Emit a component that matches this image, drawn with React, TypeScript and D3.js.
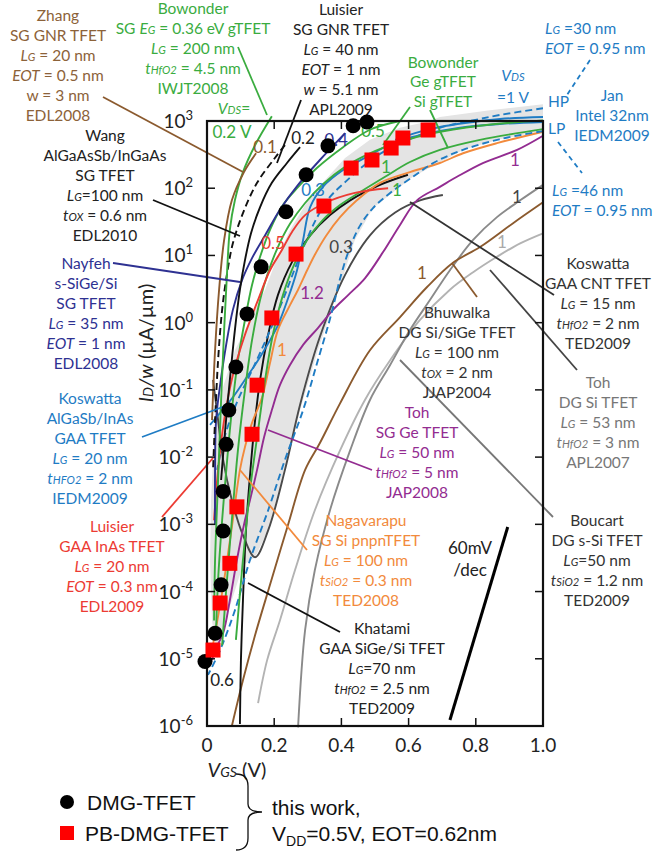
import React from "react";
import * as d3 from "d3";

// ---------- axes ----------
const VGS_TICKS = [0, 0.2, 0.4, 0.6, 0.8, 1.0];
const VGS_TICK_LABELS = ["0", "0.2", "0.4", "0.6", "0.8", "1.0"];
const ID_EXPONENTS = [3, 2, 1, 0, -1, -2, -3, -4, -5, -6];

// ---------- this work: [VGS (V), log10 ID/w (uA/um)] ----------
const dmgTfet: [number, number][] = [
  [0.476, 2.985], [0.435, 2.93], [0.36, 2.63], [0.295, 2.2], [0.235, 1.65],
  [0.161, 0.83], [0.119, 0.13], [0.086, -0.66], [0.065, -1.3], [0.057, -1.81],
  [0.048, -2.51], [0.048, -3.1], [0.042, -3.9], [0.024, -4.62], [-0.006, -5.04],
];
const pbDmgTfet: [number, number][] = [
  [0.658, 2.866], [0.583, 2.747], [0.548, 2.598], [0.491, 2.42], [0.429, 2.3],
  [0.348, 1.735], [0.265, 1.02], [0.193, 0.07], [0.149, -0.93], [0.134, -1.66],
  [0.089, -2.74], [0.068, -3.58], [0.039, -4.17], [0.018, -4.87],
];

// ---------- literature curves: [VGS, log10 ID/w] ----------
const zhangGnr = [[0.146, 2.52], [0.11, 2.24], [0.074, 1.82], [0.051, 1.23], [0.036, 0.49], [0.024, -0.41], [0.015, -1.45]];
const bowonder02 = [[0.193, 3.07], [0.143, 2.64], [0.107, 2.24], [0.083, 1.82], [0.068, 1.38], [0.06, 0.78], [0.051, -0.11], [0.042, -1.15], [0.033, -2.34], [0.024, -3.53], [0.021, -4.43]];
const wangIII = [[0.232, 2.64], [0.202, 2.45], [0.149, 2.08], [0.107, 1.63], [0.077, 1.18], [0.06, 0.74], [0.045, 0.19], [0.033, -0.56], [0.024, -1.45], [0.018, -2.19]];
const luisierGnr = [[0.277, 2.61], [0.238, 2.375], [0.193, 2.08], [0.158, 1.72], [0.131, 1.33], [0.113, 0.93], [0.098, 0.49], [0.083, -0.11], [0.068, -0.85], [0.054, -1.6], [0.042, -2.34]];
const nayfeh = [[0.411, 2.82], [0.336, 2.42], [0.271, 2.05], [0.217, 1.68], [0.173, 1.3], [0.134, 0.96], [0.104, 0.63], [0.077, 0.19], [0.057, -0.33], [0.039, -0.93], [0.027, -1.45], [0.024, -2.19], [0.024, -3.01]];
const bowonder05 = [[0.574, 3.0], [0.485, 2.87], [0.405, 2.61], [0.327, 2.3], [0.268, 2.0], [0.226, 1.75], [0.1875, 1.38], [0.158, 0.98], [0.134, 0.56], [0.113, 0.04], [0.092, -0.56], [0.074, -1.3], [0.06, -2.04], [0.045, -2.94], [0.033, -3.83], [0.027, -4.57]];
const bowonderGe = [[1.0, 3.01], [0.8125, 2.93], [0.664, 2.81], [0.574, 2.69], [0.485, 2.52], [0.411, 2.32], [0.345, 2.06], [0.292, 1.78], [0.247, 1.47], [0.211, 1.125], [0.182, 0.75], [0.158, 0.34], [0.134, -0.26], [0.113, -1.0], [0.092, -1.9], [0.074, -2.94], [0.057, -3.98], [0.045, -4.8]];
const bowonderSi = [[1.0, 2.88], [0.8125, 2.72], [0.693, 2.57], [0.604, 2.39], [0.53, 2.17], [0.455, 1.94], [0.396, 1.75], [0.345, 1.53], [0.298, 1.23], [0.259, 0.86], [0.226, 0.41], [0.196, -0.18], [0.173, -0.85], [0.152, -1.6], [0.128, -2.49], [0.107, -3.53], [0.086, -4.72]];
const luisierInAs = [[0.539, 2.0], [0.44, 1.93], [0.351, 1.78], [0.292, 1.6], [0.253, 1.35], [0.223, 1.08], [0.1875, 0.78], [0.152, 0.34], [0.113, -0.18], [0.077, -0.78], [0.051, -1.45], [0.033, -2.19], [0.021, -2.94]];
const koswattaIII = [[1.0, 2.985], [0.872, 2.955], [0.753, 2.9], [0.634, 2.79], [0.56, 2.69], [0.485, 2.49], [0.405, 2.27], [0.345, 2.02], [0.307, 1.72], [0.286, 1.23], [0.268, 0.78], [0.241, 0.36], [0.208, -0.07], [0.158, -0.51], [0.113, -0.85], [0.077, -1.11], [0.009, -1.52]];
const koswattaIIIb = [[1.0, 3.06], [0.872, 3.03], [0.768, 2.97], [0.693, 2.91], [0.619, 2.82], [0.56, 2.72]];
const janHP = [[1.0, 3.19], [0.872, 3.09], [0.783, 3.0], [0.693, 2.9], [0.604, 2.73], [0.53, 2.555], [0.47, 2.35], [0.411, 2.09], [0.366, 1.87], [0.327, 1.56], [0.292, 1.18], [0.262, 0.81], [0.226, 0.34], [0.182, -0.18], [0.134, -0.71], [0.092, -1.15], [0.054, -1.67], [0.03, -2.19]];
const janLP = [[1.0, 2.85], [0.872, 2.73], [0.762, 2.57], [0.679, 2.39], [0.613, 2.17], [0.545, 1.93], [0.494, 1.705], [0.455, 1.44], [0.426, 1.125], [0.399, 0.71], [0.369, 0.11], [0.33, -0.56], [0.286, -1.3], [0.232, -2.04], [0.182, -2.79], [0.128, -3.53], [0.083, -4.28], [0.039, -4.87], [0.003, -5.24]];
const koswattaCnt = [[0.018, -0.85], [0.033, -1.45], [0.048, -2.04], [0.074, -2.64], [0.107, -3.16], [0.143, -3.49], [0.182, -3.09], [0.232, -2.19], [0.277, -1.22], [0.336, -0.21], [0.411, 0.71], [0.485, 1.3], [0.56, 1.64], [0.634, 1.82], [0.702, 1.9]];
const khatami = [[0.598, 2.2], [0.515, 2.05], [0.426, 1.82], [0.366, 1.6], [0.307, 1.3], [0.253, 0.9], [0.211, 0.41], [0.182, -0.18], [0.158, -0.85], [0.14, -1.6], [0.128, -2.27], [0.116, -3.09], [0.107, -4.13], [0.101, -5.02], [0.098, -5.97]];
const tohGe = [[1.0, 2.78], [0.923, 2.57], [0.821, 2.375], [0.744, 2.17], [0.693, 2.02], [0.625, 1.82], [0.574, 1.45], [0.524, 1.05], [0.47, 0.66], [0.42, 0.41], [0.375, 0.19], [0.33, -0.08], [0.286, -0.33], [0.247, -0.63], [0.217, -0.93], [0.193, -1.3], [0.17, -1.7], [0.149, -2.19], [0.128, -2.64], [0.113, -2.94], [0.089, -3.53], [0.068, -4.13], [0.048, -4.62], [0.024, -4.87], [0.015, -5.02]];
const nagavarapu = [[1.0, 2.84], [0.863, 2.67], [0.762, 2.52], [0.693, 2.375], [0.604, 2.24], [0.515, 2.08], [0.446, 1.82], [0.396, 1.57], [0.354, 1.29], [0.321, 1.01], [0.298, 0.78], [0.271, 0.49], [0.247, 0.26], [0.211, -0.11], [0.1875, -0.6], [0.164, -1.11], [0.134, -1.49], [0.113, -1.85], [0.098, -2.19], [0.074, -3.04], [0.045, -4.02], [0.024, -4.62], [0.015, -4.87]];
const bhuwalka = [[1.0, 1.79], [0.911, 1.48], [0.8125, 1.125], [0.732, 0.89], [0.655, 0.53], [0.574, 0.08], [0.485, -0.41], [0.396, -1.2], [0.336, -1.79], [0.292, -2.19], [0.241, -3.01], [0.1875, -3.9], [0.143, -4.65], [0.107, -5.32], [0.074, -6.0]];
const boucart = [[1.0, 2.05], [0.932, 1.82], [0.863, 1.57], [0.792, 1.23], [0.723, 0.78], [0.664, 0.34], [0.604, -0.11], [0.545, -0.63], [0.485, -1.15], [0.426, -1.9], [0.366, -2.79], [0.321, -3.68], [0.292, -4.57], [0.271, -6.02]];
const tohSi = [[1.0, 1.33], [0.932, 1.18], [0.863, 0.98], [0.792, 0.75], [0.723, 0.49], [0.634, 0.04], [0.545, -0.56], [0.47, -1.15], [0.396, -1.9], [0.321, -2.79], [0.262, -3.68], [0.217, -4.43], [0.179, -5.02], [0.152, -5.66]];
const slope60 = [[0.723, -5.91], [0.895, -3.04]];

// benchmark envelope (shaded)
const envelope = [
  [1.0, 3.25], [0.842, 3.16], [0.693, 3.06], [0.664, 3.0], [0.574, 2.9], [0.485, 2.72], [0.411, 2.45], [0.351, 2.12], [0.292, 1.75], [0.247, 1.38], [0.208, 0.96], [0.173, 0.49], [0.128, 0.04], [0.083, -0.41], [0.045, -1.0], [0.021, -1.75], [0.012, -2.64], [0.009, -3.53], [0.015, -4.43], [0.027, -4.87],
  [0.074, -4.13], [0.107, -3.61], [0.143, -3.49], [0.182, -3.09], [0.232, -2.19], [0.277, -1.3], [0.33, -0.41], [0.381, 0.34], [0.411, 0.78], [0.44, 1.23], [0.494, 1.705], [0.613, 2.17], [0.762, 2.57], [0.872, 2.73], [1.0, 2.85],
];

const C = {
  brown: "#8b5a2e", green: "#3aac3f", navy: "#2e3192", blue: "#1f7cc4", red: "#ec3b33",
  orange: "#f28a3c", purple: "#932c91", dgray: "#4a4a4a", mgray: "#8a8a8a", lgray: "#b3b3b3", black: "#111",
};

const SERIES: { d: number[][]; color: string; dash?: string; w?: number }[] = [
  { d: tohSi, color: C.lgray }, { d: boucart, color: C.mgray }, { d: bhuwalka, color: C.brown },
  { d: koswattaCnt, color: C.dgray }, { d: khatami, color: C.black },
  { d: tohGe, color: C.purple }, { d: nagavarapu, color: C.orange },
  { d: janLP, color: C.blue, dash: "7,4" }, { d: janHP, color: C.blue, dash: "7,4" },
  { d: koswattaIII, color: C.blue }, { d: koswattaIIIb, color: C.blue },
  { d: bowonderSi, color: C.green }, { d: bowonderGe, color: C.green }, { d: bowonder05, color: C.green },
  { d: luisierInAs, color: C.red }, { d: nayfeh, color: C.navy },
  { d: luisierGnr, color: C.black }, { d: wangIII, color: C.black, dash: "7,4" },
  { d: bowonder02, color: C.green }, { d: zhangGnr, color: C.brown },
];

const FONT = "Lato, 'Open Sans', sans-serif";

type Lbl = { lines: string[]; x: number; y: number; dy?: number; color: string; anchor?: string; size?: number };
const LABELS: Lbl[] = [
  { lines: ["Zhang", "SG GNR TFET", "*L*{G} = 20 nm", "*EOT* = 0.5 nm", "w = 3 nm", "EDL2008"], x: 58, y: 15, color: "#8c6239" },
  { lines: ["Bowonder", "SG *E*{G} = 0.36 eV gTFET", "*L*{G} = 200 nm", "*t*{HfO2} = 4.5 nm", "IWJT2008"], x: 193, y: 8, color: C.green },
  { lines: ["*V*{DS}="], x: 234, y: 108, color: C.green },
  { lines: ["Luisier", "SG GNR TFET", "*L*{G} = 40 nm", "*EOT* = 1 nm", "*w* = 5.1 nm", "APL2009"], x: 341, y: 9, color: "#222" },
  { lines: ["Wang", "AlGaAsSb/InGaAs", "SG TFET", "*L*{G}=100 nm", "*t*{OX} = 0.6 nm", "EDL2010"], x: 105, y: 135, color: "#222" },
  { lines: ["Nayfeh", "s-SiGe/Si", "SG TFET", "*L*{G} = 35 nm", "*EOT* = 1 nm", "EDL2008"], x: 86, y: 263, color: C.navy },
  { lines: ["Koswatta", "AlGaSb/InAs", "GAA TFET", "*L*{G} = 20 nm", "*t*{HFO2} = 2 nm", "IEDM2009"], x: 90, y: 398, color: C.blue },
  { lines: ["Luisier", "GAA InAs TFET", "*L*{G} = 20 nm", "*EOT* = 0.3 nm", "EDL2009"], x: 112, y: 526, color: C.red },
  { lines: ["Bowonder", "Ge gTFET", "Si gTFET"], x: 443, y: 62, dy: 19.5, color: C.green },
  { lines: ["*V*{DS}", "=1 V"], x: 513, y: 75, dy: 22, color: C.blue },
  { lines: ["HP"], x: 548, y: 101, color: C.blue, anchor: "start" },
  { lines: ["LP"], x: 548, y: 128, color: C.blue, anchor: "start" },
  { lines: ["Jan", "Intel 32nm", "IEDM2009"], x: 612, y: 95, color: C.blue },
  { lines: ["*L*{G} =30 nm", "*EOT* = 0.95 nm"], x: 545, y: 28, color: C.blue, anchor: "start" },
  { lines: ["*L*{G} =46 nm", "*EOT* = 0.95 nm"], x: 552, y: 190, color: C.blue, anchor: "start" },
  { lines: ["Koswatta", "GAA CNT TFET", "*L*{G} = 15 nm", "*t*{HfO2} = 2 nm", "TED2009"], x: 598, y: 263, color: "#333" },
  { lines: ["Toh", "DG Si TFET", "*L*{G} = 53 nm", "*t*{HfO2} = 3 nm", "APL2007"], x: 598, y: 382, color: "#777" },
  { lines: ["Boucart", "DG s-Si TFET", "*L*{G}=50 nm", "*t*{SiO2} = 1.2 nm", "TED2009"], x: 597, y: 520, color: "#333" },
  { lines: ["Bhuwalka", "DG Si/SiGe TFET", "*L*{G} = 100 nm", "*t*{OX} = 2 nm", "JJAP2004"], x: 457, y: 312, color: "#333" },
  { lines: ["Toh", "SG Ge TFET", "*L*{G} = 50 nm", "*t*{HfO2} = 5 nm", "JAP2008"], x: 417, y: 412, color: C.purple },
  { lines: ["Nagavarapu", "SG Si pnpnTFET", "*L*{G} = 100 nm", "*t*{SiO2} = 0.3 nm", "TED2008"], x: 366, y: 520, color: C.orange },
  { lines: ["Khatami", "GAA SiGe/Si TFET", "*L*{G}=70 nm", "*t*{HfO2} = 2.5 nm", "TED2009"], x: 382, y: 628, color: "#222" },
  { lines: ["60mV", "/dec"], x: 470, y: 548, dy: 22, color: "#222", size: 17 },
  // curve tags (VDS values)
  { lines: ["0.2 V"], x: 232, y: 132, color: C.green, size: 17 },
  { lines: ["0.1"], x: 265, y: 147, color: C.brown, size: 17 },
  { lines: ["0.2"], x: 303, y: 138, color: "#222", size: 17 },
  { lines: ["0.4"], x: 336, y: 140, color: C.navy, size: 17 },
  { lines: ["0.5"], x: 373, y: 131, color: C.green, size: 17 },
  { lines: ["0.3"], x: 313, y: 190, color: C.blue, size: 17 },
  { lines: ["0.5"], x: 273, y: 243, color: C.red, size: 17 },
  { lines: ["0.3"], x: 341, y: 247, color: "#444", size: 17 },
  { lines: ["1.2"], x: 312, y: 293, color: C.purple, size: 17 },
  { lines: ["1"], x: 282, y: 350, color: C.orange, size: 17 },
  { lines: ["1"], x: 386, y: 167, color: C.green, size: 17 },
  { lines: ["1"], x: 397, y: 190, color: C.green, size: 17 },
  { lines: ["1"], x: 515, y: 160, color: C.purple, size: 17 },
  { lines: ["1"], x: 517, y: 197, color: "#444", size: 17 },
  { lines: ["1"], x: 502, y: 242, color: "#aaa", size: 17 },
  { lines: ["1"], x: 422, y: 273, color: C.brown, size: 17 },
  { lines: ["0.6"], x: 222, y: 680, color: "#222", size: 17 },
];

type Ptr = { p: number[]; color: string; dash?: string };
const POINTERS: Ptr[] = [
  { p: [103, 97, 243, 172], color: C.brown },
  { p: [238, 47, 267, 115], color: C.green },
  { p: [301, 100, 277, 163], color: "#111" },
  { p: [153, 200, 240, 236], color: "#111" },
  { p: [113, 263, 240, 282], color: C.navy },
  { p: [142, 437, 228, 405], color: C.blue },
  { p: [162, 517, 213, 458], color: C.red },
  { p: [410, 107, 383, 145], color: C.green },
  { p: [430, 110, 448, 148], color: C.green },
  { p: [590, 60, 567, 95], color: C.blue, dash: "5,4" },
  { p: [558, 142, 582, 173], color: C.blue, dash: "5,4" },
  { p: [410, 202, 554, 295], color: "#333" },
  { p: [490, 270, 577, 370], color: "#444" },
  { p: [400, 360, 553, 517], color: "#777" },
  { p: [452, 263, 477, 297], color: C.brown },
  { p: [268, 430, 372, 470], color: C.purple },
  { p: [240, 470, 307, 550], color: C.orange },
  { p: [248, 583, 340, 632], color: "#111" },
];

function Rich({ s, x, y, size, color, anchor }: { s: string; x: number; y: number; size: number; color: string; anchor: string }) {
  const parts = s.split(/(\*[^*]+\*|\{[^}]+\})/).filter((t) => t.length);
  return (
    <text x={x} y={y + size * 0.36} fill={color} fontSize={size} fontFamily={FONT} textAnchor={anchor}>
      {parts.map((t, i) => {
        if (t.startsWith("*")) return <tspan key={i} fontStyle="italic">{t.slice(1, -1)}</tspan>;
        if (t.startsWith("{")) return <tspan key={i} fontStyle="italic" fontSize={size * 0.72}>{t.slice(1, -1)}</tspan>;
        return <tspan key={i}>{t}</tspan>;
      })}
    </text>
  );
}

export default function App() {
  const x = d3.scaleLinear().domain([0, 1]).range([207, 543]);
  const y = d3.scaleLog().domain([1e-6, 1e3]).range([726, 121]);
  const px = (d: number[]) => x(d[0]);
  const py = (d: number[]) => y(Math.pow(10, d[1]));
  const line = d3.line<number[]>().x(px).y(py).curve(d3.curveCatmullRom.alpha(0.5));
  const area = d3.line<number[]>().x(px).y(py).curve(d3.curveLinearClosed);

  return (
    <svg width={672} height={852} style={{ position: "absolute", left: 0, top: 0, background: "#fff" }}>
      <rect width={672} height={852} fill="#fff" />
      <path d={area(envelope) || ""} fill="#e4e4e4" />

      {SERIES.map((s, i) => (
        <path key={i} d={line(s.d) || ""} fill="none" stroke={s.color} strokeWidth={s.w ?? 1.9} strokeDasharray={s.dash} />
      ))}
      <path d={d3.line<number[]>().x(px).y(py)(slope60) || ""} stroke="#000" strokeWidth={3} />

      {POINTERS.map((p, i) => (
        <line key={i} x1={p.p[0]} y1={p.p[1]} x2={p.p[2]} y2={p.p[3]} stroke={p.color} strokeWidth={1.8} strokeDasharray={p.dash} />
      ))}

      {/* frame + ticks */}
      <rect x={207} y={121} width={336} height={605} fill="none" stroke="#111" strokeWidth={2.2} />
      {VGS_TICKS.map((t, i) => (
        <g key={i}>
          <line x1={x(t)} x2={x(t)} y1={726} y2={718} stroke="#111" strokeWidth={1.5} />
          <line x1={x(t)} x2={x(t)} y1={121} y2={129} stroke="#111" strokeWidth={1.5} />
          <text x={x(t)} y={752} textAnchor="middle" fontSize={19} fontFamily={FONT} fill="#222">{VGS_TICK_LABELS[i]}</text>
        </g>
      ))}
      {ID_EXPONENTS.map((e) => (
        <g key={e}>
          <line x1={207} x2={215} y1={y(Math.pow(10, e))} y2={y(Math.pow(10, e))} stroke="#111" strokeWidth={1.5} />
          <line x1={543} x2={535} y1={y(Math.pow(10, e))} y2={y(Math.pow(10, e))} stroke="#111" strokeWidth={1.5} />
          <text x={193} y={y(Math.pow(10, e)) + 7} textAnchor="end" fontSize={19} fontFamily={FONT} fill="#222">
            10<tspan dy={-8} fontSize={13}>{e}</tspan>
          </text>
        </g>
      ))}
      <text transform="translate(153,343) rotate(-90)" textAnchor="middle" fontSize={20} fontFamily={FONT} fill="#222">
        <tspan fontStyle="italic">I</tspan><tspan fontStyle="italic" fontSize={14}>D</tspan><tspan fontStyle="italic">/w</tspan> (µA/µm)
      </text>
      <text x={237} y={777} textAnchor="middle" fontSize={20} fontFamily={FONT} fill="#222">
        <tspan fontStyle="italic">V</tspan><tspan fontStyle="italic" fontSize={14}>GS</tspan> (V)
      </text>

      {LABELS.map((l, i) =>
        l.lines.map((s, j) => (
          <Rich key={`${i}-${j}`} s={s} x={l.x} y={l.y + j * (l.dy ?? 20)} size={l.size ?? 15.5} color={l.color} anchor={l.anchor ?? "middle"} />
        ))
      )}

      {/* this work markers */}
      {dmgTfet.map((d, i) => (
        <circle key={i} cx={px(d)} cy={py(d)} r={7.5} fill="#000" />
      ))}
      {pbDmgTfet.map((d, i) => (
        <rect key={i} x={px(d) - 7.5} y={py(d) - 7.5} width={15} height={15} fill="#ff0000" />
      ))}

      {/* legend */}
      <circle cx={67} cy={802} r={7} fill="#000" />
      <text x={87} y={810} fontSize={21} fontFamily="'Liberation Sans', Arial, sans-serif" fill="#111">DMG-TFET</text>
      <rect x={60} y={826} width={14} height={14} fill="#ff0000" />
      <text x={85} y={841} fontSize={21} fontFamily="'Liberation Sans', Arial, sans-serif" fill="#111">PB-DMG-TFET</text>
      <path d="M236,774 Q248,774 248,786 L248,804 Q248,812 262,812 Q248,812 248,820 L248,838 Q248,850 236,850" fill="none" stroke="#111" strokeWidth={1.3} />
      <text x={272} y={815} fontSize={21} fontFamily="'Liberation Sans', Arial, sans-serif" fill="#111">this work,</text>
      <text x={272} y={841} fontSize={21} fontFamily="'Liberation Sans', Arial, sans-serif" fill="#111">
        V<tspan fontSize={14} dy={5}>DD</tspan><tspan dy={-5}>=0.5V, EOT=0.62nm</tspan>
      </text>
    </svg>
  );
}
